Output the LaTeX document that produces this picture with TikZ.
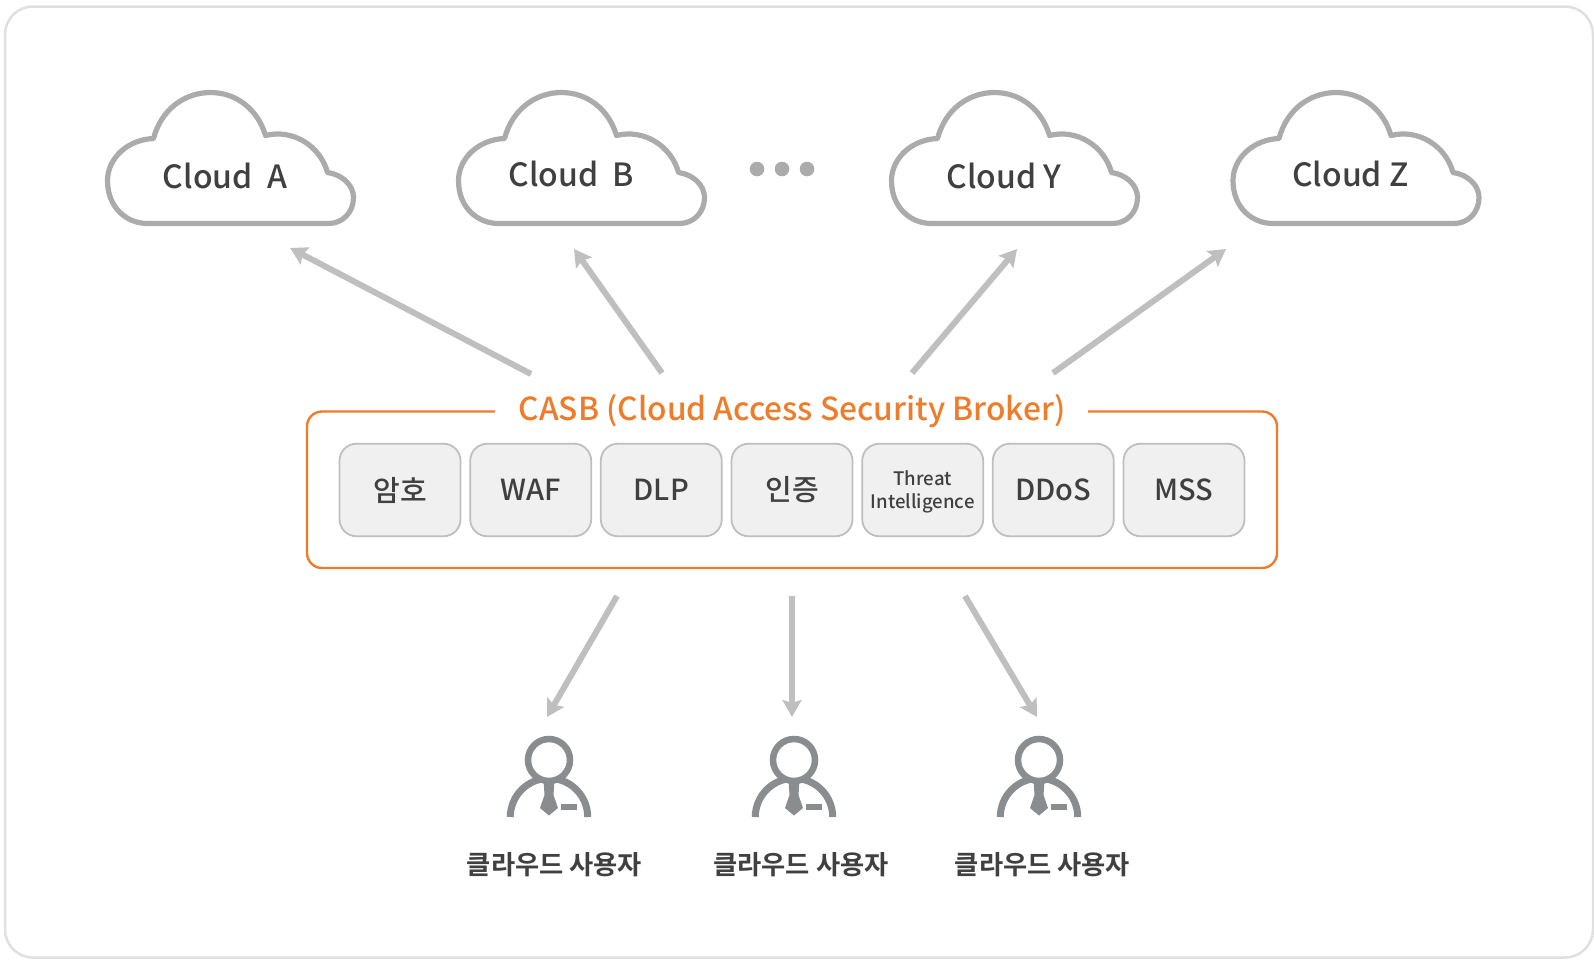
\documentclass[tikz,border=0pt]{standalone}
\usepackage{fontspec}
\setmainfont[BoldFont={Noto Sans CJK KR Bold}]{Noto Sans CJK KR Medium}
\usetikzlibrary{arrows.meta}
\definecolor{txt}{HTML}{404040}
\definecolor{org}{HTML}{ED7D2B}
\definecolor{cl}{HTML}{ABABAB}
\definecolor{arr}{HTML}{BFBFBF}
\definecolor{per}{HTML}{8A8D90}
\tikzset{
 x=1pt,y=-1pt,
 flow/.style={draw=arr,line width=6pt,-{Stealth[length=17pt,width=19pt,inset=3pt]}},
 modbox/.style={draw=arr,line width=1.8pt,fill=black!6,rounded corners=17pt,minimum width=121pt,minimum height=92.5pt,text=txt,inner sep=0pt,font=\fontsize{29}{31}\selectfont},
 cloudlabel/.style={text=txt,inner sep=0pt,font=\fontsize{32}{34}\selectfont},
 userlabel/.style={text=txt,inner sep=0pt,font=\bfseries\fontsize{26.3}{28}\selectfont},
 cloudshape/.pic={
  \draw[cl,line width=5.2pt,fill=white,line join=round]
   (40,43) .. controls (20,43) and (0,28) .. (0,0)
   .. controls (0,-22) and (20,-41) .. (46,-42)
   .. controls (54,-72) and (78,-88) .. (103,-88)
   .. controls (128,-88) and (150,-72) .. (158,-45)
   .. controls (186,-52) and (213,-34) .. (220,-8)
   .. controls (235,-6) and (246,5) .. (246,17)
   .. controls (246,32) and (235,43) .. (221,43) -- cycle;
 },
 userpic/.pic={
  \draw[per,line width=7pt] (-38.7,57) arc[start angle=180,end angle=360,radius=38.7];
  \draw[per,fill=white,line width=6.5pt] (0,0) circle (21);
  \fill[per] (-5.5,20) -- (5.5,20) -- (4.5,35) -- (9,48) -- (0,55.5) -- (-9,48) -- (-4.5,35) -- cycle;
  \fill[per] (12,44) rectangle (28,49.5);
 },
}
\begin{document}
\begin{tikzpicture}
\useasboundingbox (0,0) rectangle (1594,959);
\fill[white] (0,0) rectangle (1594,959);
\node[draw=black!12,line width=2.5pt,rounded corners=28pt,minimum width=1588pt,minimum height=951pt,inner sep=0pt] (frame) at (799,482) {};
% clouds
\pic at (107.5,180.5) {cloudshape}; \pic at (458.5,180.5) {cloudshape};
\pic at (891.5,180.5) {cloudshape}; \pic at (1233,180.5) {cloudshape};
\node[cloudlabel] (ca) at (225,176) {Cloud\ \ A};
\node[cloudlabel] (cb) at (571.5,174) {Cloud\ \ B};
\node[cloudlabel] (cy) at (1004,176) {Cloud Y};
\node[cloudlabel] (cz) at (1350.5,174) {Cloud Z};
\foreach \x/\n in {757/d1,782/d2,807/d3} \fill[cl] (\x,169) circle (7.3);
% casb
\draw[org,line width=2.4pt,rounded corners=15pt] (495,411.5) -- (307,411.5) -- (307,568) -- (1277,568) -- (1277,411.5) -- (1088,411.5);
\node[text=org,inner sep=0pt,font=\fontsize{31.7}{35}\selectfont] (casb) at (792,411.5) {CASB (Cloud Access Security Broker)};
\node[modbox] (m1) at (400,490) {암호};
\node[modbox] (m2) at (530.7,490) {WAF};
\node[modbox] (m3) at (661.3,490) {DLP};
\node[modbox] (m4) at (792,490) {인증};
\node[modbox,font=\fontsize{18.6}{23}\selectfont,align=center] (m5) at (922.7,490) {\rule{0pt}{18pt}Threat\\Intelligence};
\node[modbox] (m6) at (1053.3,490) {DDoS};
\node[modbox] (m7) at (1184,490) {MSS};
% arrows
\coordinate (a1s) at (531,374); \coordinate (a1e) at (290,248);
\coordinate (a2s) at (662,373); \coordinate (a2e) at (574,249);
\coordinate (a3s) at (912,373); \coordinate (a3e) at (1017,249);
\coordinate (a4s) at (1053,373); \coordinate (a4e) at (1226,249);
\coordinate (b1s) at (617,596); \coordinate (b1e) at (547,717);
\coordinate (b2s) at (792,596); \coordinate (b2e) at (792,717);
\coordinate (b3s) at (965,596); \coordinate (b3e) at (1037,717);
\foreach \p in {a1,a2,a3,a4,b1,b2,b3} \draw[flow] (\p s) -- (\p e);
% users
\pic at (549,760) {userpic}; \pic at (794,760) {userpic}; \pic at (1039,760) {userpic};
\node[userlabel] (u1) at (554.5,865) {클라우드 사용자};
\node[userlabel] (u2) at (801,865) {클라우드 사용자};
\node[userlabel] (u3) at (1042.5,865) {클라우드 사용자};
\end{tikzpicture}
\end{document}
